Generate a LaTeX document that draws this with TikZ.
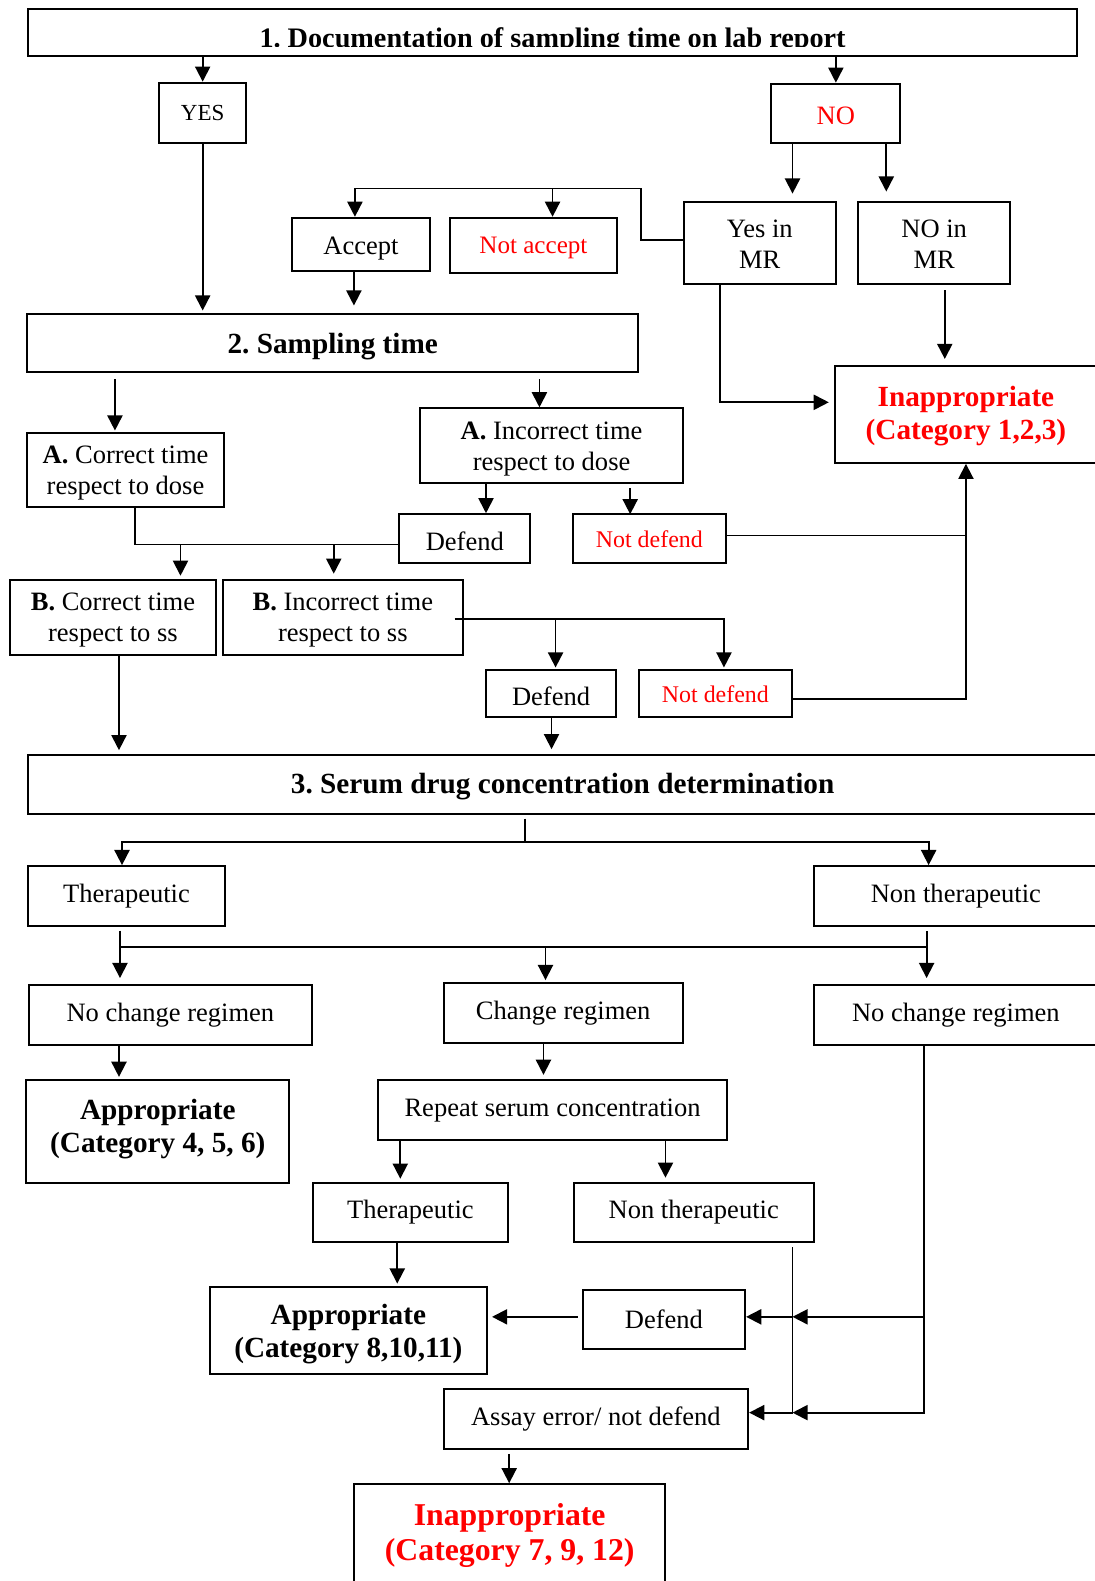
\documentclass[tikz,border=0pt]{standalone}
\usepackage{fontspec}
\setmainfont{Liberation Serif}
\usetikzlibrary{arrows.meta,calc}
\definecolor{rd}{RGB}{255,0,0}
\frenchspacing
\newcommand\bodyf{\fontsize{26.3}{30.5}\selectfont}
\newcommand\bigf{\fontsize{29}{33}\selectfont\bfseries}
\newcommand\hugef{\fontsize{31.5}{35.5}\selectfont\bfseries}
% strut that lowers a text block by #1 pt when placed at the start of its first line
\newcommand\lowerby[1]{\rule{0pt}{\dimexpr 0.683em+#1pt*2\relax}}
\tikzset{
 bx/.style 2 args={draw, line width=2pt, inner sep=0pt, align=center, font=\bodyf, minimum width=#1pt, minimum height=#2pt},
 arr/.style={line width=1.8pt, -{Triangle[length=15pt,width=15pt]}},
 ln/.style={line width=1.8pt},
 tup/.style={execute at end node={\rule[-\dimexpr 0.217em+#1pt*2\relax]{0pt}{0pt}}},
}
\begin{document}
\begin{tikzpicture}[x=1pt,y=-1pt]
\useasboundingbox (0,0) rectangle (1085,1568);
% ---------- nodes ----------
\node[bx={1040}{47}] (box1) at (548,32.5) {};
\begin{scope}
\clip (0,0) rectangle (1085,46.3);
\node[font=\fontsize{28}{32}\selectfont\bfseries, anchor=base, inner sep=0pt] (t1) at (548,47) {1. Documentation of sampling time on lab report};
\end{scope}
\node[bx={86}{60}, font=\fontsize{22.8}{26}\selectfont] (yes) at (201,112) {YES};
\node[bx={128}{59}, text=rd] (no) at (829,112.5) {\lowerby{2}NO};
\node[bx={151}{82}, font=\fontsize{26.3}{31}\selectfont] (yesmr) at (753.5,241) {\lowerby{1}Yes in\\MR};
\node[bx={151}{82}, font=\fontsize{26.3}{31}\selectfont] (nomr) at (926.5,241) {\lowerby{1}NO in\\MR};
\node[bx={136}{53}] (accept) at (358,242.5) {\lowerby{4}Accept};
\node[bx={166}{55}, text=rd, font=\fontsize{24.9}{29}\selectfont] (notacc) at (529,243.5) {\lowerby{2}Not accept};
\node[bx={606}{58}, font=\bigf] (samp) at (330,340) {\lowerby{4}2. Sampling time};
\node[bx={260}{96}, font=\bigf, text=rd] (inapp1) at (958,411) {\lowerby{1.5}Inappropriate\\(Category 1,2,3)};
\node[bx={195}{74}] (acorr) at (124.5,466) {\lowerby{3}\textbf{A.} Correct time\\respect to dose};
\node[bx={260}{74}] (ainc) at (547,442) {\lowerby{3}\textbf{A.} Incorrect time\\respect to dose};
\node[bx={130}{48}] (def1) at (461,534) {\lowerby{3}Defend};
\node[bx={152}{48}, text=rd, font=\fontsize{23.7}{28}\selectfont] (nd1) at (644,534) {\lowerby{1}Not defend};
\node[bx={204}{75}] (bcorr) at (112,612.5) {\lowerby{2.5}\textbf{B.} Correct time\\respect to ss};
\node[bx={238}{75}] (binc) at (340,612.5) {\lowerby{2.5}\textbf{B.} Incorrect time\\respect to ss};
\node[bx={129}{47}] (def2) at (546.5,687.5) {\lowerby{3}Defend};
\node[bx={151}{47}, text=rd, font=\fontsize{23.7}{28}\selectfont] (nd2) at (709.5,687.5) {\lowerby{1}Not defend};
\node[bx={1060}{58}, font=\bigf] (serum) at (558,778) {\lowerby{2}3. Serum drug concentration determination};
\node[bx={195}{59}] (ther) at (125.5,888.5) {Therapeutic};
\node[bx={282}{59}] (nonther) at (948,888.5) {Non therapeutic};
\node[bx={280}{59}] (ncrL) at (169,1006.5) {No change regimen};
\node[bx={237}{59}] (cr) at (558.5,1004.5) {Change regimen};
\node[bx={282}{59}] (ncrR) at (948,1006.5) {No change regimen};
\node[bx={261}{102}, font=\bigf, tup=2] (appr1) at (156.5,1122) {Appropriate\\(Category 4, 5, 6)};
\node[bx={346}{60}] (rep) at (548,1101) {Repeat serum concentration};
\node[bx={194}{59}] (ther2) at (407,1202.5) {Therapeutic};
\node[bx={238}{59}] (nonther2) at (688,1202.5) {Non therapeutic};
\node[bx={275}{87}, font=\bigf] (appr2) at (345.5,1319.5) {\lowerby{3.5}Appropriate\\(Category 8,10,11)};
\node[bx={161}{59}] (def3) at (658.5,1308.5) {Defend};
\node[bx={302}{59}] (assay) at (591,1407.5) {Assay error/ not defend};
\node[bx={309}{98}, font=\hugef, text=rd] (inapp2) at (505.5,1521) {\lowerby{2}Inappropriate\\(Category 7, 9, 12)};
% ---------- coordinates ----------
\coordinate (t1a) at (786,192);
\coordinate (t2a) at (879,190);
\coordinate (j1) at (636,187);
\coordinate (a1) at (352,215);
\coordinate (a2) at (548,215);
\coordinate (a3) at (351,303);
\coordinate (a5) at (714,399);
\coordinate (a4) at (822,399);
\coordinate (a6) at (937,356);
\coordinate (a7) at (114,427);
\coordinate (a8) at (535,404);
\coordinate (a9) at (482,509);
\coordinate (a10) at (625,510);
\coordinate (j3) at (134,540);
\coordinate (a12) at (179,571);
\coordinate (a13) at (331,569);
\coordinate (a14) at (551,662);
\coordinate (a15) at (718,662);
\coordinate (a16) at (547,743);
\coordinate (a17) at (118,744);
\coordinate (j5) at (521,835);
\coordinate (a18) at (121,858);
\coordinate (a19) at (921,858);
\coordinate (j6) at (119,939);
\coordinate (j7) at (919,939);
\coordinate (a20) at (119,970);
\coordinate (a21) at (541,972);
\coordinate (a22) at (919,970);
\coordinate (a23) at (118,1068);
\coordinate (a24) at (539,1066);
\coordinate (a25) at (397,1169);
\coordinate (a26) at (660,1168);
\coordinate (a27) at (394,1273);
\coordinate (j8) at (786,1306);
\coordinate (j9) at (786,1401);
\coordinate (j10) at (916,1306);
\coordinate (j11) at (916,1401);
\coordinate (a28) at (505,1471);
% ---------- connectors ----------
\draw[arr] (box1.south -| yes.north) -- (yes.north);
\draw[arr] (box1.south -| no.north) -- (no.north);
\draw[arr] (no.south -| t1a) -- (t1a);
\draw[arr] (no.south -| t2a) -- (t2a);
\draw[arr] ([yshift=3pt]yesmr.west) -| (j1) -| (a1);
\draw[arr] (j1 -| a2) -- (a2);
\draw[arr] (accept.south -| a3) -- (a3);
\draw[arr, shorten >=2pt] (yes.south) -- (yes.south |- samp.north);
\draw[arr] (yesmr.south -| a5) -- (a5) -- (a4);
\draw[arr] ([yshift=-5pt]nomr.south -| a6) -- (a6);
\draw[arr] ([yshift=-6pt]samp.south -| a7) -- (a7);
\draw[arr] ([yshift=-6pt]samp.south -| a8) -- (a8);
\draw[arr] (ainc.south -| a9) -- (a9);
\draw[arr] ([yshift=-4pt]ainc.south -| a10) -- (a10);
\draw[ln] ([yshift=3pt]nd1.east) -- ([yshift=3pt]nd1.east -| inapp1.south);
\draw[arr] ([yshift=-5.5pt]nd2.east) -| (inapp1.south);
\draw[ln] (acorr.south -| j3) -- (j3) -- (j3 -| def1.west);
\draw[arr] (j3 -| a12) -- (a12);
\draw[arr] (j3 -| a13) -- (a13);
\draw[arr] ([xshift=-9pt,yshift=-1.5pt]binc.east) -| (a15);
\draw[arr] ([yshift=-1.5pt]binc.east -| a14) -- (a14);
\draw[arr] (def2.south -| a16) -- (a16);
\draw[arr] (bcorr.south -| a17) -- (a17);
\draw[ln] ([yshift=-4pt]serum.south -| j5) -- (j5);
\draw[arr] (j5) -| (a18);
\draw[arr] (j5) -| (a19);
\draw[ln] ([yshift=-4pt]ther.south -| j6) -- (j6) -- (j7) -- ([yshift=-4pt]nonther.south -| j7);
\draw[arr] (j6) -- (a20);
\draw[arr] (j6 -| a21) -- (a21);
\draw[arr] (j7) -- (a22);
\draw[arr] (ncrL.south -| a23) -- (a23);
\draw[arr] (cr.south -| a24) -- (a24);
\draw[arr] (rep.south -| a25) -- (a25);
\draw[arr] (rep.south -| a26) -- (a26);
\draw[arr] (ther2.south -| a27) -- (a27);
\draw[arr, shorten <=4pt, shorten >=4pt] ([yshift=2.5pt]def3.west) -- ([yshift=2.5pt]def3.west -| appr2.east);
\draw[ln] ([yshift=-4pt]nonther2.south -| j9) -- (j9);
\draw[arr] (ncrR.south -| j11) -- (j11) -- (j9);
\draw[arr] (j10) -- (j8);
\draw[arr] (j8) -- (j8 -| def3.east);
\draw[arr] (j9) -- (j9 -| assay.east);
\draw[arr] ([yshift=-4pt]assay.south -| a28) -- (a28);
\end{tikzpicture}
\end{document}
